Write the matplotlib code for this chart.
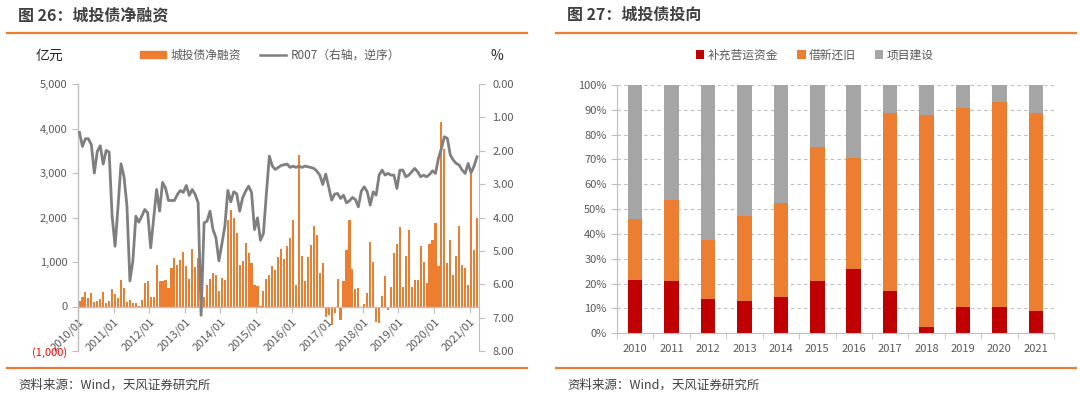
import numpy as np
import matplotlib.pyplot as plt
from matplotlib.lines import Line2D
from matplotlib.patches import Patch
from matplotlib.ticker import FuncFormatter, MultipleLocator, FixedLocator

plt.rcParams['font.family'] = ['Noto Sans CJK SC', 'DejaVu Sans']

# monthly net financing of chengtou bonds, 2010/01 - 2021/03 (100m yuan)
net_financing = [
    128, 210, 323, 188, 300, 90, 128, 173, 316, 75,
    113, 383, 285, 188, 600, 413, 98, 143, 75, 68,
    15, 150, 526, 564, 203, 203, 925, 564, 564, 586,
    413, 865, 1098, 940, 1053, 1226, 910, 624, 1293, 895,
    1090, 30, 210, 474, 624, 752, 714, 353, 639, 602,
    1947, 2158, 2000, 1662, 940, 1015, 1421, 1203, 985, 489,
    466, 15, 353, 624, 714, 920, 810, 1110, 1300, 1075,
    1368, 1541, 1955, 489, 3398, 1143, 579, 1113, 1376, 1805,
    1617, 752, 977, -226, -188, -414, -150, 617, -300, 564,
    1263, 1940, 842, 391, 406, 0, 53, 300, 1444, 1000,
    -338, -376, 241, 677, -75, 436, 1203, 1406, 1782, 436,
    1143, 1714, 436, 586, 602, 1368, 1000, 526, 1406, 1504,
    1880, 902, 4135, 3534, 977, 1504, 714, 1143, 1820, 925,
    865, 489, 3083, 1278, 1992,
]
# R007 monthly (%), right axis reversed
r007 = [
    1.45, 1.87, 1.64, 1.64, 1.82, 2.67, 2.02, 1.85, 2.40, 1.99,
    2.04, 3.96, 4.86, 3.66, 2.39, 2.77, 3.66, 5.90, 5.30, 3.96,
    4.14, 3.96, 3.76, 3.86, 4.91, 4.04, 3.16, 3.81, 2.95, 3.12,
    3.49, 3.49, 3.49, 3.31, 3.19, 3.25, 3.04, 3.34, 3.16, 3.31,
    3.56, 6.93, 4.16, 4.11, 3.81, 4.36, 4.61, 5.30, 4.79, 4.26,
    3.19, 3.53, 3.23, 3.29, 3.81, 3.41, 3.21, 3.06, 3.25, 4.36,
    4.01, 4.68, 4.48, 3.28, 2.16, 2.46, 2.56, 2.50, 2.44, 2.42,
    2.40, 2.50, 2.46, 2.50, 2.46, 2.50, 2.46, 2.48, 2.50, 2.53,
    2.61, 2.73, 3.01, 2.70, 3.08, 3.48, 3.30, 3.28, 3.43, 3.33,
    3.56, 3.50, 3.40, 3.46, 3.68, 3.21, 3.08, 3.23, 3.63, 3.23,
    3.33, 2.73, 2.58, 2.73, 2.68, 2.73, 2.73, 3.13, 2.58, 2.58,
    2.78, 2.73, 2.63, 2.53, 2.63, 2.78, 2.73, 2.78, 2.71, 2.60,
    2.68, 2.23, 1.93, 1.58, 1.63, 2.13, 2.28, 2.38, 2.43, 2.58,
    2.68, 2.38, 2.66, 2.46, 2.18,
]
month_ticks = [f"{y}/01" for y in range(2010, 2022)]

# use of proceeds (%)
years = [str(y) for y in range(2010, 2022)]
working_capital = [21.5, 21.2, 13.8, 12.9, 14.5, 21.2, 25.8, 17.0, 2.4, 10.5, 10.7, 8.9]
refinancing = [24.5, 32.5, 23.8, 34.5, 37.8, 53.7, 44.7, 71.6, 85.5, 80.4, 82.3, 79.7]
projects = [54.0, 46.3, 62.4, 52.6, 47.7, 25.1, 29.5, 11.4, 12.1, 9.1, 7.0, 11.4]

ORANGE = "#ED7D31"
RED = "#C00000"
GRAY = "#A5A5A5"
LINE = "#7F7F7F"
TXT = "#595959"
AXC = "#BFBFBF"

W, H = 1080, 399
fig = plt.figure(figsize=(W / 100, H / 100), dpi=100)


def px(x0, y0, x1, y1):
    return [x0 / W, 1 - y1 / H, (x1 - x0) / W, (y1 - y0) / H]


def hline(x0, x1, y):
    fig.add_artist(Line2D([x0 / W, x1 / W], [1 - y / H] * 2, color=ORANGE, lw=1.6))


# titles, rules, sources
fig.text(18 / W, 1 - 15 / H, "图 26：城投债净融资", fontsize=11.5, fontweight="bold",
         color="#404040", va="center")
fig.text(567 / W, 1 - 15 / H, "图 27：城投债投向", fontsize=11.5, fontweight="bold",
         color="#404040", va="center")
for x0, x1 in [(7, 527), (556, 1076)]:
    hline(x0, x1, 33)
    hline(x0, x1, 368)
fig.text(18 / W, 1 - 385 / H, "资料来源：Wind，天风证券研究所", fontsize=9, color="#404040", va="center")
fig.text(567 / W, 1 - 385 / H, "资料来源：Wind，天风证券研究所", fontsize=9, color="#404040", va="center")

# ---- left chart
ax = fig.add_axes(px(78, 84, 478.5, 351))
ax.spines["bottom"].set_position(("data", 0))
x = np.arange(len(net_financing))
ax.bar(x, net_financing, width=0.72, color=ORANGE, zorder=2)
ax.set_xlim(-0.5, len(net_financing) - 0.5)
ax.set_ylim(-1000, 5000)
ax.yaxis.set_major_locator(MultipleLocator(1000))


def thousands(v, pos):
    if v < 0:
        return f"({abs(v):,.0f})"
    return f"{v:,.0f}"


ax.yaxis.set_major_formatter(FuncFormatter(thousands))
ax.spines["top"].set_visible(False)
ax.spines["right"].set_visible(False)
for s in ["left", "bottom"]:
    ax.spines[s].set_color(AXC)
    ax.spines[s].set_linewidth(1)
ax.tick_params(axis="both", colors=AXC, labelcolor=TXT, labelsize=8, length=4)
ax.set_xticks(np.arange(0, len(net_financing), 12) - 0.5)
ax.set_xticklabels(month_ticks, rotation=45, ha="right", rotation_mode="anchor")
ax.tick_params(axis="x", pad=3)
for lab in ax.get_yticklabels():
    if lab.get_text().startswith("("):
        lab.set_color("#FF0000")

ax2 = ax.twinx()
ax2.plot(x, r007, color=LINE, lw=2, zorder=3)
ax2.set_ylim(8, 0)
ax2.yaxis.set_major_locator(MultipleLocator(1))
ax2.yaxis.set_major_formatter(FuncFormatter(lambda v, p: f"{v:.2f}"))
for s in ["top", "left", "bottom"]:
    ax2.spines[s].set_visible(False)
ax2.spines["right"].set_color(AXC)
ax2.tick_params(axis="y", colors=AXC, labelcolor=TXT, labelsize=8, length=4, pad=6)

fig.text(36 / W, 1 - 56 / H, "亿元", fontsize=10, color="#262626", va="center")
fig.text(497 / W, 1 - 56 / H, "%", fontsize=10, color="#262626", va="center", ha="center")
handles = [Patch(color=ORANGE), Line2D([], [], color=LINE, lw=1.8)]
fig.legend(handles, ["城投债净融资", "R007（右轴，逆序）"], ncol=2, frameon=False,
           loc="center", bbox_to_anchor=(270 / W, 1 - 55 / H), fontsize=8.5,
           labelcolor=TXT, handlelength=2.2, handleheight=0.6, columnspacing=1.6,
           handletextpad=0.4)

# ---- right chart
bx = fig.add_axes(px(617, 85, 1054, 333.3))
pos = np.arange(len(years))
wc = np.array(working_capital)
rf = np.array(refinancing)
pj = np.array(projects)
bx.bar(pos, wc, width=0.4, color=RED, zorder=2, label="补充营运资金")
bx.bar(pos, rf, width=0.4, bottom=wc, color=ORANGE, zorder=2, label="借新还旧")
bx.bar(pos, pj, width=0.4, bottom=wc + rf, color=GRAY, zorder=2, label="项目建设")
bx.set_xlim(-0.5, len(years) - 0.5)
bx.set_ylim(0, 100)
bx.yaxis.set_major_locator(MultipleLocator(10))
bx.yaxis.set_major_formatter(FuncFormatter(lambda v, p: f"{v:.0f}%"))
bx.grid(axis="y", color=AXC, linestyle=(0, (3, 3)), lw=0.8, zorder=0)
bx.set_xticks(pos)
bx.set_xticklabels(years)
bx.xaxis.set_minor_locator(FixedLocator(np.arange(-0.5, len(years), 1)))
for s in ["top", "right"]:
    bx.spines[s].set_visible(False)
for s in ["left", "bottom"]:
    bx.spines[s].set_color(AXC)
bx.tick_params(axis="x", which="major", length=0, labelcolor=TXT, labelsize=8, pad=8)
bx.tick_params(axis="x", which="minor", length=4, color=AXC)
bx.tick_params(axis="y", colors=AXC, labelcolor=TXT, labelsize=8, length=4)
bx.legend(loc="center", bbox_to_anchor=(815 / W, 1 - 55 / H), bbox_transform=fig.transFigure,
          ncol=3, frameon=False, fontsize=8.5, labelcolor=TXT, handlelength=0.7,
          handleheight=0.7, handletextpad=0.3, columnspacing=1.6)

fig.savefig("out.png", dpi=100)
